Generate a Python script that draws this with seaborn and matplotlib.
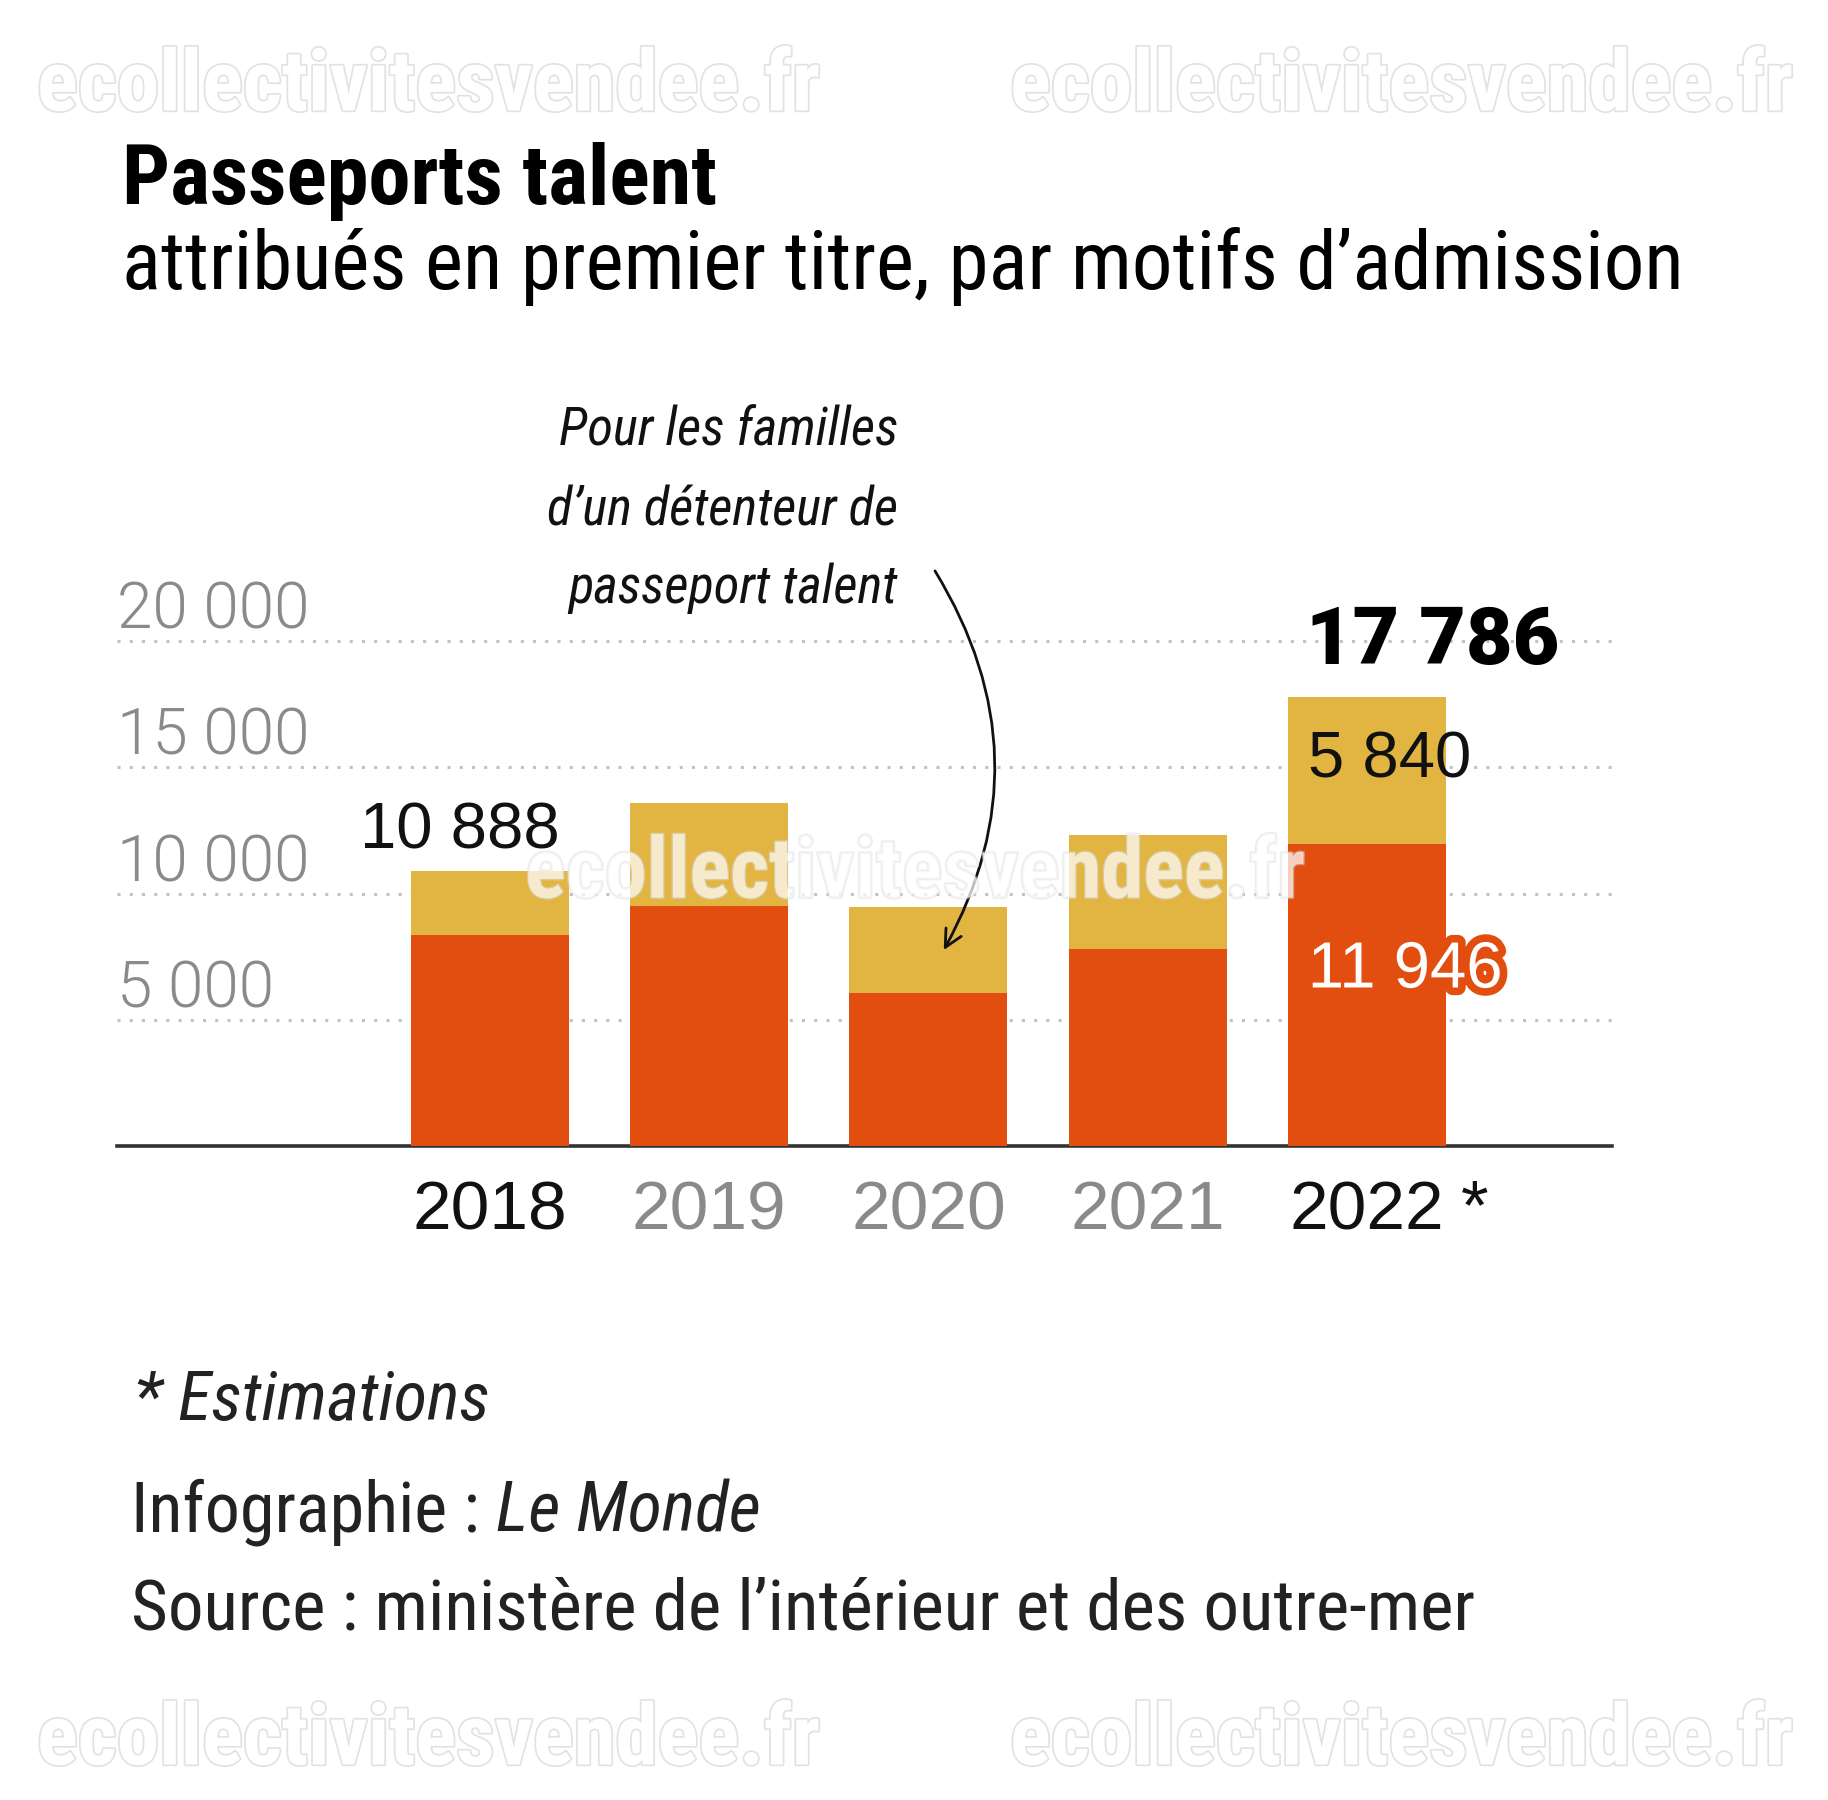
import os
import matplotlib
matplotlib.use('Agg')
import matplotlib.pyplot as plt
import matplotlib.font_manager as fm
import matplotlib.patheffects as pe
import seaborn as sns
import pandas as pd

# ---------------- data ----------------
years = ['2018', '2019', '2020', '2021', '2022']
motif_principal = [8350, 9520, 6070, 7810, 11946]      # orange-red segment
familles_talent = [2538, 4050, 3390, 4500, 5840]       # yellow segment (families)
year_colors = ['#111111', '#8a8a8a', '#8a8a8a', '#8a8a8a', '#111111']
y_ticks = [5000, 10000, 15000, 20000]
y_tick_labels = ['5 000', '10 000', '15 000', '20 000']

RED = '#E24E10'
YELLOW = '#E2B542'
GRAY = '#8a8a8a'

# ---------------- fonts ----------------
sns.set_theme(style='white')
_names = {f.name for f in fm.fontManager.ttflist}
REG = 'Liberation Sans' if 'Liberation Sans' in _names else 'DejaVu Sans'
plt.rcParams['font.family'] = [REG, 'DejaVu Sans']

_files = [f.fname for f in fm.fontManager.ttflist]


def _pick(cands, fallback):
    for c in cands:
        for fn in _files:
            if os.path.basename(fn).lower() == c.lower():
                return fm.FontProperties(fname=fn)
    return fallback


COND = {
    'reg': _pick(['RobotoCondensed-Regular.ttf', 'NotoSans-Condensed.ttf', 'OpenSans-CondensedRegular.ttf',
                  'LiberationSansNarrow-Regular.ttf', 'DejaVuSansCondensed.ttf'],
                 fm.FontProperties(family='DejaVu Sans', stretch='condensed')),
    'bold': _pick(['RobotoCondensed-Bold.ttf', 'NotoSans-CondensedBold.ttf', 'OpenSans-CondensedBold.ttf',
                   'LiberationSansNarrow-Bold.ttf', 'DejaVuSansCondensed-Bold.ttf'],
                  fm.FontProperties(family='DejaVu Sans', stretch='condensed', weight='bold')),
    'ital': _pick(['RobotoCondensed-Italic.ttf', 'NotoSans-CondensedItalic.ttf',
                   'OpenSans-CondensedLightItalic.ttf', 'LiberationSansNarrow-Italic.ttf',
                   'DejaVuSansCondensed-Oblique.ttf'],
                  fm.FontProperties(family='DejaVu Sans', stretch='condensed', style='italic')),
    'light': _pick(['Roboto-Light.ttf', 'Lato-Light.ttf', 'OpenSans-Light.ttf', 'LiberationSans-Regular.ttf'],
                   fm.FontProperties(family=REG)),
    'black': _pick(['Roboto-Black.ttf', 'Lato-Black.ttf', 'Roboto-Bold.ttf', 'LiberationSans-Bold.ttf'],
                   fm.FontProperties(family=REG, weight='bold')),
}


def FP(kind, size):
    p = COND[kind].copy()
    p.set_size(size)
    return p


W, H = 1828, 1800
fig = plt.figure(figsize=(W / 100, H / 100), dpi=100)
fig.patch.set_facecolor('white')
renderer = fig.canvas.get_renderer()


def fx(px):
    return px / W


def fy(py):
    return 1 - py / H


def fit_width(texts, target_px, max_size=None, min_size=None):
    total = sum(t.get_window_extent(renderer=renderer).width for t in texts)
    s = texts[0].get_fontsize() * target_px / total
    if max_size is not None:
        s = min(s, max_size)
    if min_size is not None:
        s = max(s, min_size)
    for t in texts:
        t.set_fontsize(s)
    return s


ax = fig.add_axes([0.064, 0.3633, 0.8178, 0.3086])
ax.set_facecolor('white')

df = pd.DataFrame({
    'year': years,
    'total': [a + b for a, b in zip(motif_principal, familles_talent)],
    'principal': motif_principal,
})

sns.barplot(data=df, x='year', y='total', order=years, color=YELLOW, width=0.72,
            saturation=1, linewidth=0, ax=ax, zorder=2)
sns.barplot(data=df, x='year', y='principal', order=years, color=RED, width=0.72,
            saturation=1, linewidth=0, ax=ax, zorder=3)

ax.set_xlim(-1.70, 5.117)
ax.set_ylim(0, 22000)
ax.set_xlabel('')
ax.set_ylabel('')

# gridlines
ax.set_yticks(y_ticks)
ax.yaxis.grid(True, color='#c2c2c2', linestyle=(0, (1, 3)), linewidth=2.2)
ax.xaxis.grid(False)
ax.set_axisbelow(True)
ax.tick_params(axis='y', length=0, labelleft=False)
for s in ['top', 'right', 'left']:
    ax.spines[s].set_visible(False)
ax.spines['bottom'].set_color('#333333')
ax.spines['bottom'].set_linewidth(2.6)

# y tick labels above gridlines, left-aligned
for v, lab in zip(y_ticks, y_tick_labels):
    t = ax.annotate(lab, xy=(0, v), xycoords=('axes fraction', 'data'),
                    xytext=(0, 9), textcoords='offset points',
                    ha='left', va='baseline', fontproperties=FP('light', 46), color=GRAY)

# year labels
ax.set_xticks(range(len(years)))
ax.set_xticklabels(years, fontsize=50, family=REG)
ax.tick_params(axis='x', length=0, pad=60)
for lbl, c in zip(ax.get_xticklabels(), year_colors):
    lbl.set_color(c)
    lbl.set_va('baseline')
ax.annotate('*', xy=(4.43, 0), xycoords=('data', 'axes fraction'),
            xytext=(0, -60), textcoords='offset points',
            ha='left', va='baseline', fontsize=51, color='#111111', family=REG)


def fmt(v):
    return f'{v:,}'.replace(',', ' ')


tot = df['total'].tolist()
# value labels
ax.annotate(fmt(tot[0]), xy=(0.32, tot[0]), xytext=(0, 16), textcoords='offset points',
            ha='right', va='baseline', fontsize=47, color='#111111', family=REG)
t_big = ax.annotate(fmt(tot[4]), xy=(3.72, tot[4]), xytext=(0, 24), textcoords='offset points',
                    ha='left', va='baseline', fontproperties=FP('black', 58), color='#000000')
fit_width([t_big], 253, max_size=60)
ax.annotate(fmt(familles_talent[4]), xy=(3.73, tot[4]), xytext=(0, -58), textcoords='offset points',
            ha='left', va='baseline', fontsize=47, color='#111111', family=REG, zorder=5)
ax.annotate(fmt(motif_principal[4]), xy=(3.73, motif_principal[4]), xytext=(0, -103),
            textcoords='offset points', ha='left', va='baseline', fontsize=47,
            color='white', family=REG, zorder=5,
            path_effects=[pe.withStroke(linewidth=11, foreground=RED)])

# curved arrow
ax.annotate('', xy=(2.07, 7760), xytext=(2.03, 22780),
            arrowprops=dict(arrowstyle='->,head_length=0.5,head_width=0.25',
                            connectionstyle='arc3,rad=-0.29', lw=2.0, color='#111111',
                            mutation_scale=25, shrinkA=0, shrinkB=0),
            annotation_clip=False, zorder=6)

# annotation text (right aligned)
ann = []
for txt, by in [('Pour les familles', 445), ('d\u2019un détenteur de', 525), ('passeport talent', 603)]:
    ann.append(fig.text(fx(898), fy(by), txt, ha='right', va='baseline',
                        fontproperties=FP('ital', 49), color='#111111'))
fit_width([ann[0]], 332, max_size=52, min_size=38)
for t in ann[1:]:
    t.set_fontsize(ann[0].get_fontsize())

# titles
t_title = fig.text(fx(122), fy(204), 'Passeports talent', ha='left', va='baseline',
                   fontproperties=FP('bold', 56), color='#000000')
fit_width([t_title], 595, max_size=64)
t_sub = fig.text(fx(122), fy(289), 'attribués en premier titre, par motifs d\u2019admission', ha='left',
                 va='baseline', fontproperties=FP('reg', 56), color='#000000')
fit_width([t_sub], 1562, max_size=64)

# footer
t_est = fig.text(fx(134), fy(1420), '* Estimations', ha='left', va='baseline',
                 fontproperties=FP('ital', 46), color='#222222')
fit_width([t_est], 356, max_size=52)
t1 = fig.text(fx(131), fy(1531), 'Infographie : ', ha='left', va='baseline',
              fontproperties=FP('reg', 47), color='#222222')
t2 = fig.text(fx(131), fy(1531), 'Le Monde', ha='left', va='baseline',
              fontproperties=FP('ital', 47), color='#222222')
fit_width([t1, t2], 630, max_size=54)
bb = t1.get_window_extent(renderer=renderer)
t2.set_x(bb.x1 / W)
t_src = fig.text(fx(131), fy(1629), 'Source : ministère de l\u2019intérieur et des outre-mer', ha='left',
                 va='baseline', fontproperties=FP('reg', 47), color='#222222')
fit_width([t_src], 1344, max_size=54)

# watermarks
wm = 'ecollectivitesvendee.fr'
for (x, y) in [(37, 87), (1010, 87), (37, 1741), (1010, 1741)]:
    t = fig.text(fx(x), fy(y), wm, ha='left', va='center', fontproperties=FP('bold', 54),
                 color='white', path_effects=[pe.withStroke(linewidth=2.5, foreground='#e2e2e2')])
    fit_width([t], 783, max_size=66)
t = fig.text(fx(525), fy(874), wm, ha='left', va='center', fontproperties=FP('bold', 54),
             color='white', alpha=0.45, zorder=10,
             path_effects=[pe.withStroke(linewidth=2, foreground='#dcdcdc', alpha=0.5)])
fit_width([t], 780, max_size=66)

fig.savefig('out.png', dpi=100, facecolor='white')
